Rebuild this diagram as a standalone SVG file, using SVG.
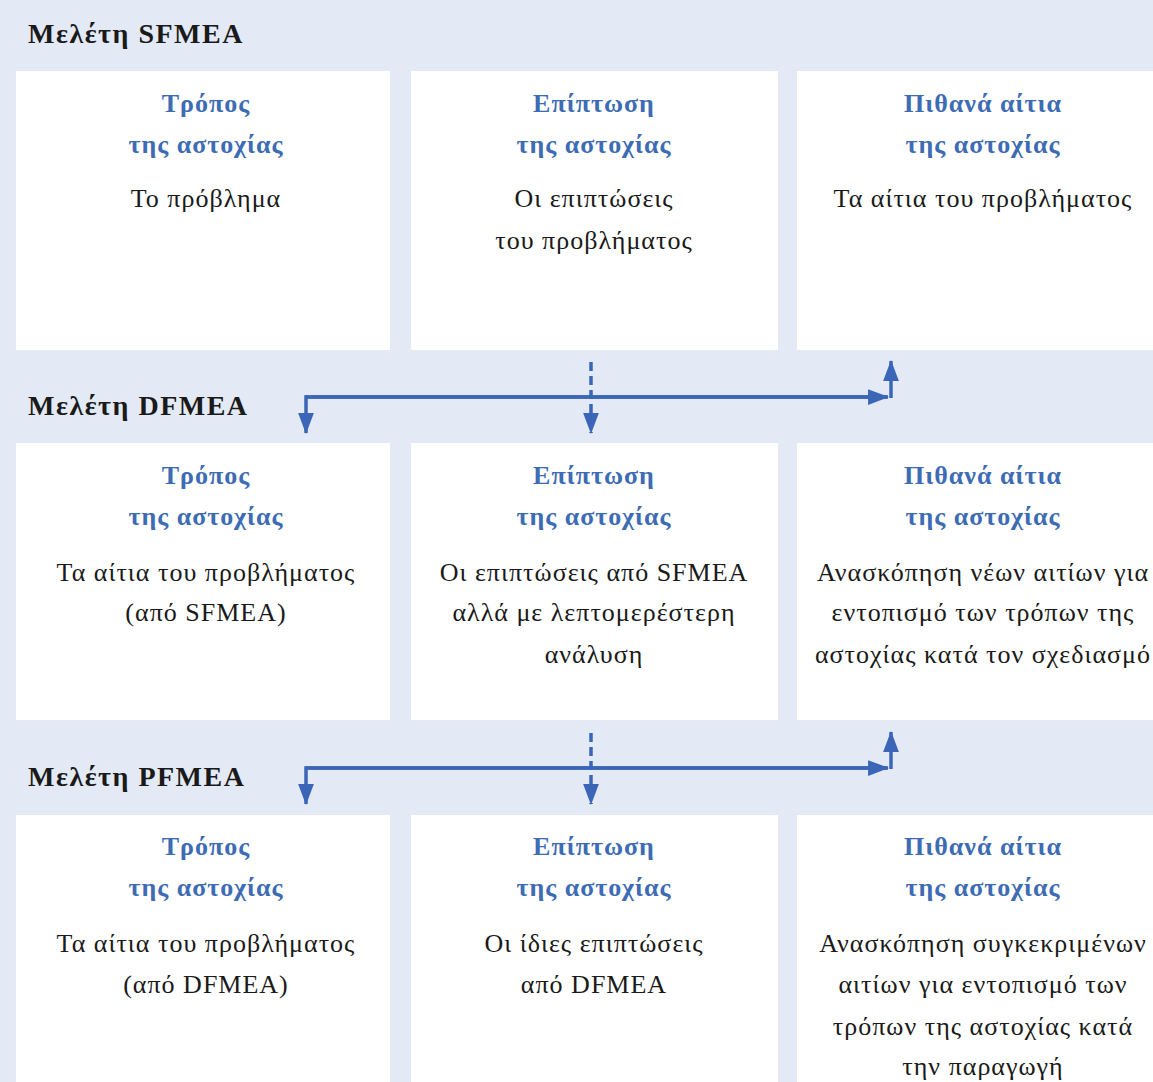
<svg xmlns="http://www.w3.org/2000/svg" width="1153" height="1082" viewBox="0 0 1153 1082">
<defs>
<style>
.bg{fill:#e3eaf5}
.box{fill:#ffffff}
.title{font-family:"Liberation Serif",serif;font-weight:bold;font-size:28px;letter-spacing:1.5px;fill:#1a1a1a}
.hd{font-family:"Liberation Serif",serif;font-weight:bold;font-size:26px;letter-spacing:1px;fill:#3d6cb5;text-anchor:middle}
.tx{font-family:"Liberation Serif",serif;font-size:26px;letter-spacing:1px;fill:#1a1a1a;text-anchor:middle}
.ln{stroke:#3b66b8;stroke-width:3.5;fill:none}
.dash{stroke:#3b66b8;stroke-width:3.5;fill:none;stroke-dasharray:9,5}
</style>
<marker id="ah" viewBox="0 0 20 15" refX="19" refY="7.5" markerWidth="6" markerHeight="4.5" markerUnits="strokeWidth" orient="auto">
<path d="M0,0 L20,7.5 L0,15 Z" fill="#3b66b8"/>
</marker>
</defs>
<rect class="bg" x="0" y="0" width="1153" height="1082"/>

<g id="title-sfmea"><text class="title" x="28" y="43">Μελέτη SFMEA</text></g>
<g id="title-dfmea"><text class="title" x="28" y="415">Μελέτη DFMEA</text></g>
<g id="title-pfmea"><text class="title" x="28" y="786">Μελέτη PFMEA</text></g>

<g id="s1">
<rect class="box" x="16" y="71" width="374" height="279"/>
<text class="hd" x="206" y="112">Τρόπος</text>
<text class="hd" x="206" y="153">της αστοχίας</text>
<text class="tx" x="206" y="207">Το πρόβλημα</text>
</g>
<g id="s2">
<rect class="box" x="411" y="71" width="367" height="279"/>
<text class="hd" x="594" y="112">Επίπτωση</text>
<text class="hd" x="594" y="153">της αστοχίας</text>
<text class="tx" x="594" y="207">Οι επιπτώσεις</text>
<text class="tx" x="594" y="249">του προβλήματος</text>
</g>
<g id="s3">
<rect class="box" x="797" y="71" width="356" height="279"/>
<text class="hd" x="983" y="112">Πιθανά αίτια</text>
<text class="hd" x="983" y="153">της αστοχίας</text>
<text class="tx" x="983" y="207">Τα αίτια του προβλήματος</text>
</g>

<g id="d1">
<rect class="box" x="16" y="443" width="374" height="277"/>
<text class="hd" x="206" y="484">Τρόπος</text>
<text class="hd" x="206" y="525">της αστοχίας</text>
<text class="tx" x="206" y="581">Τα αίτια του προβλήματος</text>
<text class="tx" x="206" y="621">(από SFMEA)</text>
</g>
<g id="d2">
<rect class="box" x="411" y="443" width="367" height="277"/>
<text class="hd" x="594" y="484">Επίπτωση</text>
<text class="hd" x="594" y="525">της αστοχίας</text>
<text class="tx" x="594" y="581">Οι επιπτώσεις από SFMEA</text>
<text class="tx" x="594" y="621">αλλά με λεπτομερέστερη</text>
<text class="tx" x="594" y="663">ανάλυση</text>
</g>
<g id="d3">
<rect class="box" x="797" y="443" width="356" height="277"/>
<text class="hd" x="983" y="484">Πιθανά αίτια</text>
<text class="hd" x="983" y="525">της αστοχίας</text>
<text class="tx" x="983" y="581">Ανασκόπηση νέων αιτίων για</text>
<text class="tx" x="983" y="621">εντοπισμό των τρόπων της</text>
<text class="tx" x="983" y="663">αστοχίας κατά τον σχεδιασμό</text>
</g>

<g id="p1">
<rect class="box" x="16" y="815" width="374" height="267"/>
<text class="hd" x="206" y="855">Τρόπος</text>
<text class="hd" x="206" y="896">της αστοχίας</text>
<text class="tx" x="206" y="952">Τα αίτια του προβλήματος</text>
<text class="tx" x="206" y="993">(από DFMEA)</text>
</g>
<g id="p2">
<rect class="box" x="411" y="815" width="367" height="267"/>
<text class="hd" x="594" y="855">Επίπτωση</text>
<text class="hd" x="594" y="896">της αστοχίας</text>
<text class="tx" x="594" y="952">Οι ίδιες επιπτώσεις</text>
<text class="tx" x="594" y="993">από DFMEA</text>
</g>
<g id="p3">
<rect class="box" x="797" y="815" width="356" height="267"/>
<text class="hd" x="983" y="855">Πιθανά αίτια</text>
<text class="hd" x="983" y="896">της αστοχίας</text>
<text class="tx" x="983" y="952">Ανασκόπηση συγκεκριμένων</text>
<text class="tx" x="983" y="993">αιτίων για εντοπισμό των</text>
<text class="tx" x="983" y="1035">τρόπων της αστοχίας κατά</text>
<text class="tx" x="983" y="1075">την παραγωγή</text>
</g>

<g id="connectors">
<path class="ln" d="M887,397 H306 V433" marker-end="url(#ah)"/>
<path class="ln" d="M305,397 H888" marker-end="url(#ah)"/>
<path class="ln" d="M891,398 V361" marker-end="url(#ah)"/>
<path class="dash" d="M591,362 V433" marker-end="url(#ah)"/>

<path class="ln" d="M887,768 H306 V804" marker-end="url(#ah)"/>
<path class="ln" d="M305,768 H888" marker-end="url(#ah)"/>
<path class="ln" d="M891,769 V732" marker-end="url(#ah)"/>
<path class="dash" d="M591,733 V804" marker-end="url(#ah)"/>
</g>
</svg>
